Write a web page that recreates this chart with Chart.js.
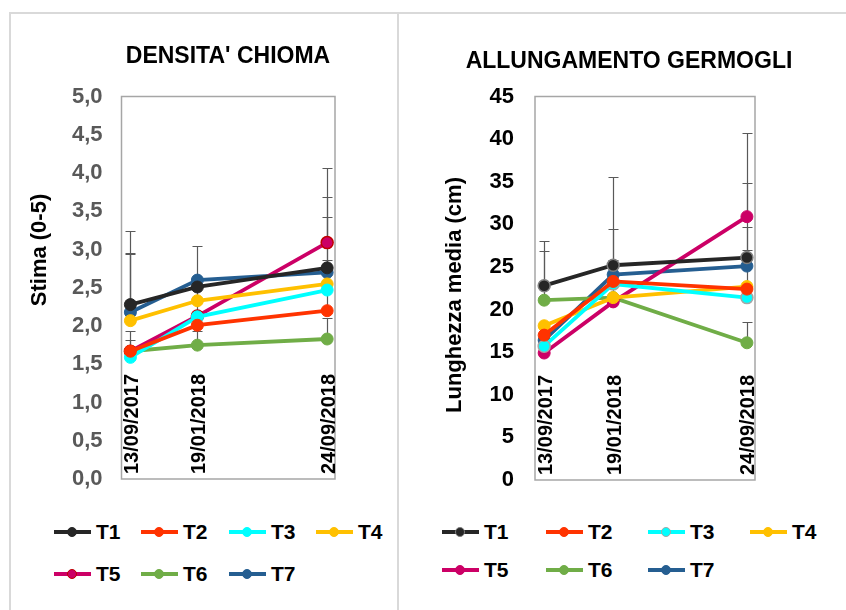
<!DOCTYPE html>
<html>
<head>
<meta charset="utf-8">
<script src="https://cdn.jsdelivr.net/npm/chart.js@4/dist/chart.umd.min.js"></script>
<style>
  html, body { margin: 0; padding: 0; background: #fff; }
  body { width: 846px; height: 610px; position: relative; overflow: hidden;
         font-family: "Liberation Sans", Arial, sans-serif; }
  .panel { position: absolute; border: 2px solid #d9d9d9; box-sizing: border-box; }
  canvas { position: absolute; top: 0; }
  .legend { position: absolute; left: 0; top: 0; }
  .item { position: absolute; height: 24px; display: flex; align-items: center;
          font: bold 21px "Liberation Sans", Arial, sans-serif; color: #000; }
  .sample { position: relative; width: 37px; height: 24px; margin-right: 5px; }
  .sample .ln { position: absolute; left: 0; right: 0; top: 10px; height: 4px; }
  .sample .dot { position: absolute; left: 13px; top: 7px; width: 10px; height: 10px;
                 border-radius: 50%; box-sizing: border-box; }
</style>
</head>
<body>
<div class="panel" style="left:9px; top:12px; width:390px; height:640px;"></div>
<div class="panel" style="left:397px; top:12px; width:480px; height:640px;"></div>
<canvas id="c1" width="398" height="500" style="left:0px"></canvas>
<canvas id="c2" width="448" height="500" style="left:398px"></canvas>
<div id="leg1" class="legend"></div>
<div id="leg2" class="legend"></div>
<script>
// Sampling dates (x axis) and treatments
const dates = ['13/09/2017', '19/01/2018', '24/09/2018'];
const series = ['T1', 'T2', 'T3', 'T4', 'T5', 'T6', 'T7'];

// Densità chioma – stima (0-5)
const densT1 = [2.28, 2.51, 2.76];
const densT2 = [1.67, 2.01, 2.20];
const densT3 = [1.59, 2.12, 2.47];
const densT4 = [2.07, 2.33, 2.55];
const densT5 = [1.67, 2.13, 3.09];
const densT6 = [1.67, 1.75, 1.83];
const densT7 = [2.18, 2.60, 2.70];
// positive error bars (null = none shown)
const densErrT1 = [0.96, null, 0.93];
const densErrT2 = [null, 1.03, 0.66];
const densErrT3 = [null, null, null];
const densErrT4 = [0.89, null, null];
const densErrT5 = [0.27, null, 0.98];
const densErrT6 = [0.15, 0.19, 0.27];
const densErrT7 = [0.76, null, 0.73];

// Allungamento germogli – lunghezza media (cm)
const allT1 = [22.8, 25.2, 26.1];
const allT2 = [17.0, 23.3, 22.4];
const allT3 = [15.7, 23.0, 21.4];
const allT4 = [18.1, 21.4, 22.7];
const allT5 = [14.9, 20.9, 30.9];
const allT6 = [21.1, 21.4, 16.1];
const allT7 = [16.4, 24.1, 25.1];
const allErrT1 = [5.3, 10.4, 8.7];
const allErrT2 = [null, null, 4.55];
const allErrT3 = [null, null, null];
const allErrT4 = [null, null, null];
const allErrT5 = [null, null, 9.8];
const allErrT6 = [5.8, 4.4, 2.4];
const allErrT7 = [null, 5.4, 4.6];

const densTicks = [0, 0.5, 1, 1.5, 2, 2.5, 3, 3.5, 4, 4.5, 5];
const allTicks = [0, 5, 10, 15, 20, 25, 30, 35, 40, 45];

const lineColors = ['#262626', '#ff3300', '#00ffff', '#ffc000', '#cc0066', '#70ad47', '#255e91'];

const FONT = '"Liberation Sans", Arial, sans-serif';

// day offsets from the first sampling date
function dayNum(s) {
  const [d, m, y] = s.split('/').map(Number);
  return Date.UTC(y, m - 1, d) / 86400000;
}
const day0 = dayNum(dates[0]);
const xDays = dates.map(s => dayNum(s) - day0);

function makeDatasets(vals, errs, borders) {
  return series.map((name, i) => ({
    label: name,
    data: vals[i].map((v, j) => ({ x: xDays[j], y: v })),
    errPlus: errs[i],
    borderColor: lineColors[i],
    backgroundColor: lineColors[i],
    pointBackgroundColor: lineColors[i],
    pointBorderColor: borders[i] || lineColors[i],
    pointBorderWidth: borders[i] ? 1.5 : 1,
    borderWidth: 3.8,
    pointRadius: 6,
    tension: 0
  }));
}

// frame, error bars, date labels, titles
const decor = {
  id: 'decor',
  beforeDatasetsDraw(chart, args, o) {
    const { ctx, chartArea: a, scales: { x, y } } = chart;
    ctx.save();
    ctx.strokeStyle = '#a6a6a6';
    ctx.lineWidth = 1.5;
    ctx.strokeRect(a.left, a.top, a.right - a.left, a.bottom - a.top);

    ctx.strokeStyle = '#595959';
    ctx.lineWidth = 1.2;
    chart.data.datasets.forEach(ds => {
      ds.errPlus.forEach((e, j) => {
        if (e == null) return;
        const px = Math.round(x.getPixelForValue(ds.data[j].x)) + 0.5;
        const y0 = y.getPixelForValue(ds.data[j].y);
        const y1 = Math.round(y.getPixelForValue(ds.data[j].y + e)) + 0.5;
        ctx.beginPath();
        ctx.moveTo(px, y0); ctx.lineTo(px, y1);
        ctx.moveTo(px - 5, y1); ctx.lineTo(px + 5, y1);
        ctx.stroke();
      });
    });

    ctx.fillStyle = '#000';
    ctx.font = 'bold 20px ' + FONT;
    ctx.textAlign = 'left';
    ctx.textBaseline = 'middle';
    dates.forEach((s, j) => {
      const px = x.getPixelForValue(xDays[j]);
      ctx.save();
      ctx.translate(px + 2, a.bottom - 5);
      ctx.rotate(-Math.PI / 2);
      ctx.fillText(s, 0, 0);
      ctx.restore();
    });
    ctx.restore();
  },
  afterDraw(chart, args, o) {
    const { ctx } = chart;
    ctx.save();
    ctx.fillStyle = '#000';
    ctx.textAlign = 'center';
    ctx.textBaseline = 'middle';
    ctx.font = 'bold 23px ' + FONT;
    ctx.fillText(o.title, o.titleX, o.titleY);
    ctx.font = 'bold 22px ' + FONT;
    ctx.translate(o.axisX, o.axisY);
    ctx.rotate(-Math.PI / 2);
    ctx.fillText(o.axisTitle, 0, 0);
    ctx.restore();
  }
};

function makeChart(id, datasets, cfg) {
  return new Chart(document.getElementById(id), {
    type: 'line',
    data: { datasets },
    plugins: [decor],
    options: {
      responsive: false,
      animation: false,
      devicePixelRatio: 1,
      layout: { padding: cfg.padding },
      plugins: {
        legend: { display: false },
        tooltip: { enabled: false },
        decor: cfg.decor
      },
      scales: {
        x: {
          type: 'linear', min: -17, max: 391,
          ticks: { display: false },
          grid: { display: false, drawTicks: false },
          border: { display: false },
          afterFit: s => { s.height = 0; s.paddingLeft = 0; s.paddingRight = 0; }
        },
        y: {
          min: cfg.ticks[0], max: cfg.ticks[cfg.ticks.length - 1],
          afterBuildTicks: s => { s.ticks = cfg.ticks.map(v => ({ value: v })); },
          ticks: {
            color: cfg.tickColor,
            font: { family: FONT, size: 22, weight: 'bold' },
            padding: cfg.tickPad,
            callback: cfg.fmt
          },
          grid: { display: false, drawTicks: false },
          border: { display: false },
          afterFit: s => { s.width = cfg.yWidth; s.paddingTop = 0; s.paddingBottom = 0; }
        }
      }
    }
  });
}

const chart1 = makeChart('c1',
  makeDatasets([densT1, densT2, densT3, densT4, densT5, densT6, densT7],
               [densErrT1, densErrT2, densErrT3, densErrT4, densErrT5, densErrT6, densErrT7],
               [null, null, null, null, '#c00000', null, null]),
  {
    padding: { left: 0, top: 96.5, right: 63, bottom: 21 },
    yWidth: 121.5, tickPad: 19, tickColor: '#595959', ticks: densTicks,
    fmt: v => v.toFixed(1).replace('.', ','),
    decor: { title: "DENSITA' CHIOMA", titleX: 228, titleY: 57,
             axisTitle: 'Stima (0-5)', axisX: 40, axisY: 250 }
  });

const chart2 = makeChart('c2',
  makeDatasets([allT1, allT2, allT3, allT4, allT5, allT6, allT7],
               [allErrT1, allErrT2, allErrT3, allErrT4, allErrT5, allErrT6, allErrT7],
               ['#7f7f7f', null, '#a6a6a6', null, null, null, null]),
  {
    padding: { left: 0, top: 96.5, right: 91, bottom: 20 },
    yWidth: 137, tickPad: 21, tickColor: '#000', ticks: allTicks,
    fmt: v => String(v),
    decor: { title: 'ALLUNGAMENTO GERMOGLI', titleX: 231, titleY: 62,
             axisTitle: 'Lunghezza media (cm)', axisX: 57, axisY: 295 }
  });

// HTML legend built from each chart's datasets
function buildLegend(el, chart, cols, rows) {
  chart.data.datasets.forEach((ds, i) => {
    const item = document.createElement('div');
    item.className = 'item';
    item.style.left = cols[i % 4] + 'px';
    item.style.top = (rows[Math.floor(i / 4)] - 12) + 'px';
    const sample = document.createElement('div');
    sample.className = 'sample';
    const ln = document.createElement('div');
    ln.className = 'ln';
    ln.style.background = ds.borderColor;
    const dot = document.createElement('div');
    dot.className = 'dot';
    dot.style.background = ds.pointBackgroundColor;
    dot.style.border = (ds.pointBorderWidth > 1 ? 1.5 : 1) + 'px solid ' + ds.pointBorderColor;
    sample.appendChild(ln);
    sample.appendChild(dot);
    const txt = document.createElement('span');
    txt.textContent = ds.label;
    item.appendChild(sample);
    item.appendChild(txt);
    el.appendChild(item);
  });
}
buildLegend(document.getElementById('leg1'), chart1, [54, 141, 229, 316], [532, 574]);
buildLegend(document.getElementById('leg2'), chart2, [442, 546, 648, 750], [532, 570]);
</script>
</body>
</html>
